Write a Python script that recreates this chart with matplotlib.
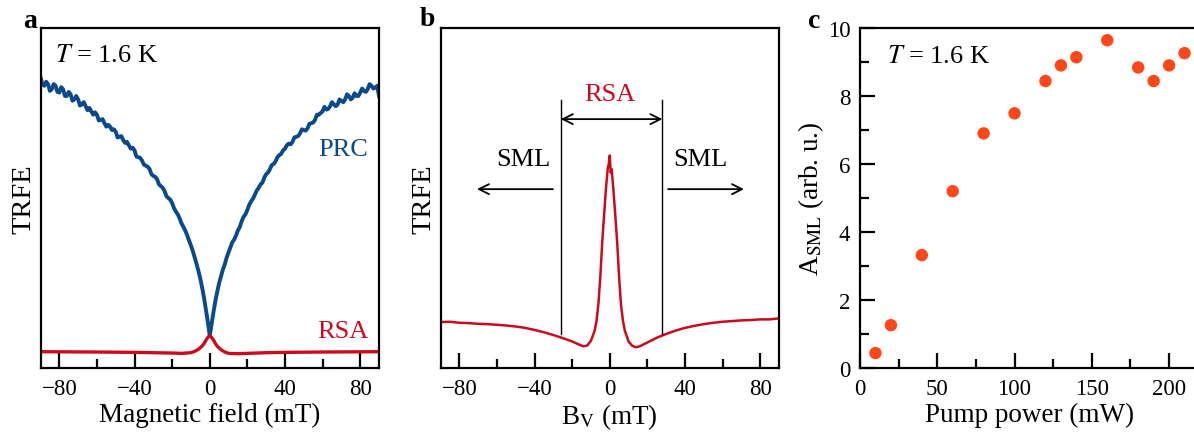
import numpy as np
import matplotlib
matplotlib.use("Agg")
import matplotlib.pyplot as plt
from matplotlib.ticker import MultipleLocator

plt.rcParams['font.family'] = ['Liberation Serif', 'DejaVu Serif']
plt.rcParams['mathtext.fontset'] = 'stix'

BLUE = '#0a4a8c'
RED = '#cc0a1e'
ORANGE = '#ff4719'

# ---------------- panel a data ----------------
prc_field = list(range(-90, 91))
prc_values = [
    0.855, 0.835, 0.83, 0.842, 0.835, 0.815, 0.82, 0.835, 0.83, 0.812,
    0.81, 0.826, 0.82, 0.80, 0.80, 0.812, 0.805, 0.786, 0.79, 0.80,
    0.79, 0.772, 0.775, 0.782, 0.77, 0.758, 0.765, 0.755, 0.745, 0.752,
    0.745, 0.728, 0.73, 0.732, 0.72, 0.71, 0.715, 0.71, 0.70, 0.702,
    0.695, 0.678, 0.68, 0.682, 0.67, 0.662, 0.665, 0.655, 0.645, 0.648,
    0.64, 0.622, 0.62, 0.618, 0.61, 0.598, 0.595, 0.592, 0.585, 0.57,
    0.565, 0.562, 0.555, 0.54, 0.535, 0.53, 0.52, 0.505, 0.50, 0.495,
    0.485, 0.47, 0.46, 0.452, 0.44, 0.425, 0.415, 0.404, 0.39, 0.375,
    0.36, 0.344, 0.325, 0.306, 0.285, 0.262, 0.235, 0.205, 0.17, 0.135,
    0.095,
    0.13, 0.165, 0.197, 0.225, 0.25, 0.27, 0.29, 0.305, 0.325, 0.34,
    0.355, 0.37, 0.378, 0.39, 0.405, 0.415, 0.432, 0.445, 0.452, 0.465,
    0.48, 0.49, 0.498, 0.51, 0.522, 0.53, 0.54, 0.545, 0.56, 0.57,
    0.575, 0.585, 0.597, 0.60, 0.608, 0.62, 0.626, 0.63, 0.64, 0.645,
    0.655, 0.66, 0.658, 0.665, 0.678, 0.68, 0.682, 0.69, 0.702, 0.70,
    0.698, 0.705, 0.718, 0.72, 0.722, 0.73, 0.745, 0.745, 0.75, 0.755,
    0.768, 0.76, 0.762, 0.77, 0.782, 0.775, 0.77, 0.775, 0.79, 0.785,
    0.782, 0.79, 0.805, 0.80, 0.79, 0.795, 0.808, 0.80, 0.80, 0.81,
    0.822, 0.815, 0.812, 0.82, 0.835, 0.83, 0.822, 0.825, 0.83, 0.80,
]
rsa_a_field = [-90, -60, -40, -30, -20, -15, -10, -8, -6, -4, -3, -2, -1, 0,
               1, 2, 3, 4, 6, 8, 10, 15, 20, 30, 40, 60, 90]
rsa_a_values = [0.048, 0.047, 0.046, 0.045, 0.044, 0.043, 0.045, 0.049, 0.055,
                0.065, 0.072, 0.082, 0.090, 0.095, 0.090, 0.082, 0.072, 0.064,
                0.054, 0.047, 0.043, 0.042, 0.043, 0.045, 0.046, 0.047, 0.048]

# ---------------- panel b data ----------------
rsa_b_field = [-90, -85, -80, -75, -70, -65, -60, -55, -50, -45, -40, -35, -30,
               -25, -20, -16, -14, -12, -10, -8, -7, -6, -5, -4, -3, -2, -1,
               -0.5, 0, 0.5, 1, 2, 3, 4, 5, 6, 7, 8, 10, 12, 14, 16, 20, 25,
               30, 35, 40, 45, 50, 55, 60, 65, 70, 75, 80, 85, 90]
rsa_b_values = [0.135, 0.136, 0.133, 0.132, 0.130, 0.129, 0.127, 0.125, 0.122,
                0.118, 0.112, 0.105, 0.097, 0.088, 0.078, 0.068, 0.064, 0.066,
                0.080, 0.110, 0.140, 0.190, 0.270, 0.370, 0.450, 0.530, 0.590,
                0.600, 0.625, 0.575, 0.585, 0.520, 0.445, 0.365, 0.265, 0.185,
                0.140, 0.110, 0.078, 0.065, 0.061, 0.064, 0.075, 0.089,
                0.100, 0.110, 0.118, 0.124, 0.129, 0.133, 0.136, 0.138, 0.140,
                0.141, 0.143, 0.143, 0.146]
rsa_window = [-26, 28]

# ---------------- panel c data ----------------
pump_power = [10, 20, 40, 60, 80, 100, 120, 130, 140, 160, 180, 190, 200, 210]
a_sml = [0.44, 1.26, 3.32, 5.2, 6.9, 7.49, 8.44, 8.9, 9.14, 9.64, 8.84, 8.44, 8.9, 9.26]

FS_TICK = 16.5
FS_LAB = 19.5
FS_TXT = 19

fig = plt.figure(figsize=(11.94, 4.35), dpi=100)
W, H = 1194, 435


def box(l, t, r, b):
    return [l / W, 1 - b / H, (r - l) / W, (b - t) / H]


axa = fig.add_axes(box(40.5, 29, 379, 369))
axb = fig.add_axes(box(440.5, 29, 779, 369))
axc = fig.add_axes(box(860, 29, 1200, 369))

for ax in (axa, axb, axc):
    for s in ax.spines.values():
        s.set_linewidth(1.6)

# panel a
axa.plot(prc_field, prc_values, color=BLUE, lw=2.8, solid_joinstyle='round')
axa.plot(rsa_a_field, rsa_a_values, color=RED, lw=2.4)
axa.set_xlim(-90, 90)
axa.set_ylim(0, 1)
axa.set_yticks([])
axa.xaxis.set_major_locator(MultipleLocator(40))
axa.xaxis.set_minor_locator(MultipleLocator(20))
axa.set_xlabel('Magnetic field (mT)', fontsize=FS_LAB, labelpad=2)
axa.set_ylabel('TRFE', fontsize=FS_LAB + 1, labelpad=3)
axa.text(-82.3, 0.92, r'$T$ = 1.6 K', fontsize=FS_TXT, va='center', ha='left')
axa.text(70.9, 0.644, 'PRC', color=BLUE, fontsize=FS_TXT, ha='center', va='center')
axa.text(70.9, 0.11, 'RSA', color=RED, fontsize=FS_TXT, ha='center', va='center')

# panel b
axb.plot(rsa_b_field, rsa_b_values, color=RED, lw=1.8)
axb.set_xlim(-90, 90)
axb.set_ylim(0, 1)
axb.set_yticks([])
axb.xaxis.set_major_locator(MultipleLocator(40))
axb.xaxis.set_minor_locator(MultipleLocator(20))
axb.set_xlabel(r'B$_{\rm V}$ (mT)', fontsize=FS_LAB, labelpad=2)
axb.set_ylabel('TRFE', fontsize=FS_LAB + 1, labelpad=3)
for xv in rsa_window:
    axb.plot([xv, xv], [0.10, 0.788], color='black', lw=1.0)
arrow_kw = dict(arrowstyle='<->', color='black', lw=1.3, mutation_scale=18,
                shrinkA=0, shrinkB=0)
axb.annotate('', xy=(rsa_window[0], 0.732), xytext=(rsa_window[1], 0.732),
             arrowprops=arrow_kw)
axb.text(0.2, 0.806, 'RSA', color=RED, fontsize=FS_TXT, ha='center', va='center')
one_kw = dict(arrowstyle='->', color='black', lw=1.3, mutation_scale=18,
              shrinkA=0, shrinkB=0)
axb.annotate('', xy=(-70.6, 0.526), xytext=(-30.2, 0.526), arrowprops=one_kw)
axb.annotate('', xy=(71.4, 0.526), xytext=(31, 0.526), arrowprops=one_kw)
axb.text(-46, 0.615, 'SML', fontsize=FS_TXT, ha='center', va='center')
axb.text(48, 0.615, 'SML', fontsize=FS_TXT, ha='center', va='center')

# panel c
axc.scatter(pump_power, a_sml, s=80, color=ORANGE, edgecolors='none', zorder=3,
            clip_on=False)
axc.set_xlim(0, 220)
axc.set_ylim(0, 10)
axc.xaxis.set_major_locator(MultipleLocator(50))
axc.xaxis.set_minor_locator(MultipleLocator(25))
axc.yaxis.set_major_locator(MultipleLocator(2))
axc.yaxis.set_minor_locator(MultipleLocator(1))
axc.set_xlabel('Pump power (mW)', fontsize=FS_LAB, labelpad=2)
axc.set_ylabel(r'A$_{\rm SML}$ (arb. u.)', fontsize=FS_LAB, labelpad=1)
axc.text(17.5, 9.18, r'$T$ = 1.6 K', fontsize=FS_TXT, va='center', ha='left')

for ax in (axa, axb, axc):
    ax.xaxis.set_ticks_position('bottom')
    ax.yaxis.set_ticks_position('left')
    ax.tick_params(which='both', direction='in', top=False, right=False,
                   labelsize=FS_TICK, width=1.6, pad=7)
    ax.tick_params(which='major', length=11)
    ax.tick_params(which='minor', length=6.5)

fig.text(30 / W, 1 - 21 / H, 'a', fontsize=20, fontweight='bold', ha='center', va='center')
fig.text(427 / W, 1 - 19 / H, 'b', fontsize=20, fontweight='bold', ha='center', va='center')
fig.text(814 / W, 1 - 21 / H, 'c', fontsize=20, fontweight='bold', ha='center', va='center')

fig.savefig('out.png', dpi=100)
